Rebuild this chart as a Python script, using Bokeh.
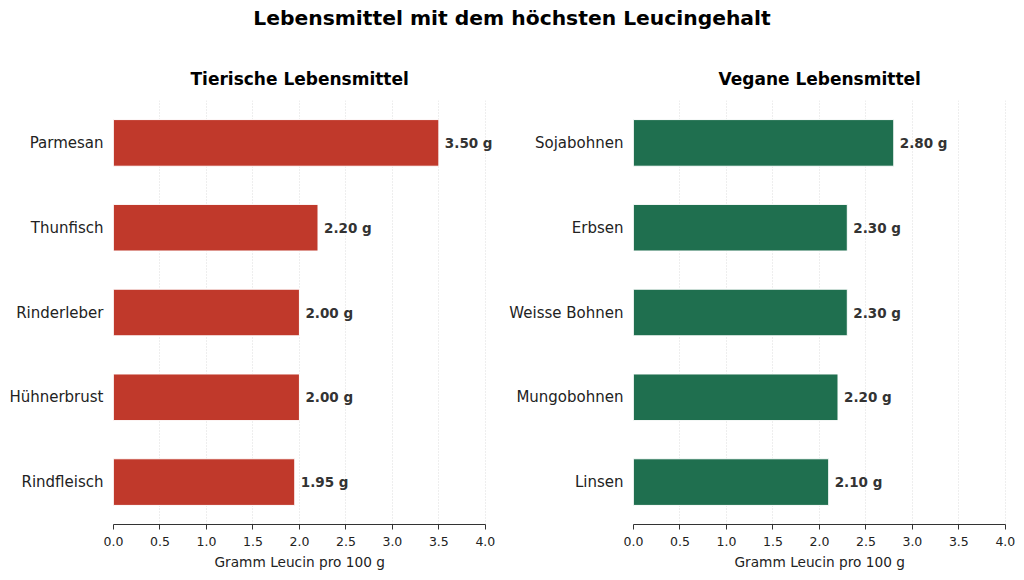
from bokeh.plotting import figure
from bokeh.models import ColumnDataSource, LabelSet, Div, FixedTicker, Title
from bokeh.layouts import row, column
from bokeh.core.properties import value
from bokeh.embed import file_html
from bokeh.resources import INLINE

suptitle = "Lebensmittel mit dem höchsten Leucingehalt"
animal_title = "Tierische Lebensmittel"
vegan_title = "Vegane Lebensmittel"
xlabel = "Gramm Leucin pro 100 g"

animal_foods = ["Parmesan", "Thunfisch", "Rinderleber", "Hühnerbrust", "Rindfleisch"]
animal_values = [3.50, 2.20, 2.00, 2.00, 1.95]
vegan_foods = ["Sojabohnen", "Erbsen", "Weisse Bohnen", "Mungobohnen", "Linsen"]
vegan_values = [2.80, 2.30, 2.30, 2.20, 2.10]
x_ticks = [0.0, 0.5, 1.0, 1.5, 2.0, 2.5, 3.0, 3.5, 4.0]
x_max = 4.0

RED = "#c0392b"
GREEN = "#1f6f4f"
FONT = "DejaVu Sans"

# visible frame runs a little past 4.0 (axis line bounded at 4.0) so value labels fit
X_VIEW_END = 4.12
FRAME_W = 383
FRAME_H = 424


def panel(title, foods, values, color, border_left, border_right, title_off):
    n = len(foods)
    ypos = [n - 1 - i for i in range(n)]  # first item on top
    src = ColumnDataSource(dict(y=ypos, val=values,
                                lab=["%.2f g" % v for v in values]))
    p = figure(frame_width=FRAME_W, frame_height=FRAME_H,
               y_range=(-0.5, n - 0.5), x_range=(0, X_VIEW_END),
               output_backend="svg", toolbar_location=None,
               min_border_left=border_left, min_border_right=border_right,
               min_border_top=60, min_border_bottom=56)
    p.hbar(y="y", left=0, right="val", height=0.55, source=src,
           fill_color=color, line_color="white", line_width=1)
    p.add_layout(LabelSet(x="val", y="y", text="lab", source=src, x_offset=6,
                          text_baseline="middle", text_align="left",
                          text_font=value(FONT), text_font_size=value("13.5px"),
                          text_font_style="bold", text_color="#333333"))
    t = Title(text=title, align="left", offset=title_off, standoff=24,
              text_font=FONT, text_font_size="17px", text_font_style="bold",
              text_color="#000000")
    p.add_layout(t, "above")
    xl = Title(text=xlabel, align="left", offset=101, standoff=7,
               text_font=FONT, text_font_size="13.7px", text_font_style="normal",
               text_color="#222222")
    p.add_layout(xl, "below")
    p.outline_line_color = None
    p.ygrid.grid_line_color = None
    p.xgrid.grid_line_color = "#dddddd"
    p.xgrid.grid_line_dash = "1 2"
    p.xgrid.grid_line_width = 1
    p.xaxis.ticker = FixedTicker(ticks=x_ticks)
    p.xaxis.bounds = (0, x_max)
    p.xaxis.major_label_overrides = {t: "%.1f" % t for t in x_ticks}
    p.xaxis.major_label_text_font = FONT
    p.xaxis.major_label_text_font_size = "12.5px"
    p.xaxis.major_label_text_color = "#222222"
    p.xaxis.axis_line_color = "#333333"
    p.xaxis.major_tick_line_color = "#333333"
    p.xaxis.major_tick_out = 5
    p.xaxis.major_tick_in = 0
    p.xaxis.minor_tick_line_color = None
    p.xaxis.major_label_standoff = 7
    p.yaxis.ticker = FixedTicker(ticks=ypos)
    p.yaxis.major_label_overrides = {yy: f for yy, f in zip(ypos, foods)}
    p.yaxis.axis_line_color = None
    p.yaxis.major_tick_line_color = None
    p.yaxis.minor_tick_line_color = None
    p.yaxis.major_tick_out = 0
    p.yaxis.major_label_standoff = 10
    p.yaxis.major_label_text_font = FONT
    p.yaxis.major_label_text_font_size = "15px"
    p.yaxis.major_label_text_color = "#222222"
    return p


p1 = panel(animal_title, animal_foods, animal_values, RED, 113, 9, 77)
p2 = panel(vegan_title, vegan_foods, vegan_values, GREEN, 128, 5, 85)

head = Div(text=suptitle, width=1021, height=40, margin=0,
           styles={"text-align": "center", "font-family": FONT, "font-size": "20.3px",
                   "font-weight": "bold", "line-height": "20px", "color": "#000000",
                   "padding-top": "8px", "padding-left": "3px"})

layout = column(head, row(p1, p2, spacing=0), spacing=0)
open("out.html", "w").write(file_html(layout, INLINE))
